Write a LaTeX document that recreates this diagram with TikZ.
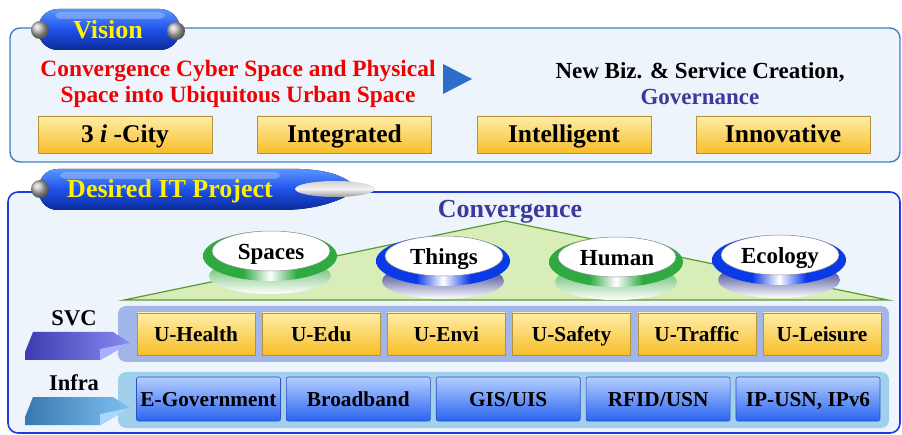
\documentclass[tikz,border=0pt]{standalone}
\usepackage{fontspec}
\setmainfont{Liberation Serif}
\usetikzlibrary{shapes.geometric}
\definecolor{panelfill}{HTML}{EDF4FC}
\definecolor{visborder}{HTML}{3C7FC8}
\definecolor{desborder}{HTML}{1F3BE0}
\definecolor{ytop}{HTML}{FEEDA8}
\definecolor{ybot}{HTML}{F8BE28}
\definecolor{ybord}{HTML}{B8923A}
\definecolor{btop}{HTML}{B4CEFF}
\definecolor{bbot}{HTML}{2A64F0}
\definecolor{bbord}{HTML}{3050C0}
\definecolor{svcband}{HTML}{A3B6EA}
\definecolor{infband}{HTML}{A0D0EC}
\definecolor{govblue}{HTML}{3A3A9A}
\definecolor{redtxt}{HTML}{F00000}
\definecolor{arrblue}{HTML}{2E6EC8}
\definecolor{trifill}{HTML}{D8EDB8}
\definecolor{tridraw}{HTML}{5A9A30}
\definecolor{ringgreen}{HTML}{2EAA40}
\definecolor{basegreen}{HTML}{48B050}
\definecolor{ringblue}{HTML}{0A3AE8}
\definecolor{baseblue}{HTML}{141A78}
\definecolor{bantop}{HTML}{5A96FF}
\definecolor{banmid}{HTML}{1E50E8}
\definecolor{banbot}{HTML}{0B2A9A}
\definecolor{banyel}{HTML}{FFF200}
\definecolor{svcl}{HTML}{3C3CB0}
\definecolor{svcr}{HTML}{8A8AF0}
\definecolor{svcf}{HTML}{A8B0FF}
\definecolor{infl}{HTML}{3878B0}
\definecolor{infr}{HTML}{80C0F0}
\definecolor{inff}{HTML}{A8D8FF}
\pgfdeclarehorizontalshading{ringgreensh}{100bp}{color(0bp)=(ringgreen); color(25bp)=(ringgreen); color(40bp)=(ringgreen); color(50bp)=(white); color(60bp)=(ringgreen); color(75bp)=(ringgreen); color(100bp)=(ringgreen)}
\pgfdeclarehorizontalshading{ringbluesh}{100bp}{color(0bp)=(ringblue); color(25bp)=(ringblue); color(40bp)=(ringblue); color(50bp)=(white); color(60bp)=(ringblue); color(75bp)=(ringblue); color(100bp)=(ringblue)}
\newcommand\myfs[1]{\fontsize{#1}{#1}\selectfont\bfseries}
\begin{document}
\begin{tikzpicture}[x=1pt,y=-1pt,
  panel/.style={fill=panelfill, rounded corners=10pt},
  ctext/.style n args={2}{inner sep=0pt, text height=#1, text depth=#2},
  ybox/.style={draw=ybord, line width=0.6pt, top color=ytop, bottom color=ybot},
  vbox/.style={ybox, ctext={21.7pt}{4.8pt}, minimum width=174pt, minimum height=37pt, font=\myfs{25.5}},
  sbox/.style={ybox, ctext={18.1pt}{4pt}, minimum width=118pt, minimum height=42pt, font=\myfs{21.3}},
  ibox/.style={ctext={18.1pt}{4pt}, draw=bbord, line width=0.6pt, top color=btop, bottom color=bbot,
     minimum width=144pt, minimum height=44pt, rounded corners=2pt, font=\myfs{21.3}},
  bantext/.style={ctext={22.1pt}{4.9pt}, text=banyel, font=\myfs{26}},
  bannershade/.style={top color=bantop, bottom color=banbot, middle color=banmid},
  orbtext/.style={ctext={19.6pt}{4.3pt}, font=\myfs{23}},
  sidelabel/.style={ctext={19.1pt}{4.2pt}, font=\myfs{22.5}},
  ball/.style={shading=ball, ball color=gray!55}
]
\useasboundingbox (0,0) rectangle (902,435);

% ---------- Vision panel ----------
\draw[panel, draw=visborder, line width=1.4pt] (10,28) rectangle (900,162);

% Vision banner
\fill[bannershade] (38,9) [rounded corners=20pt] rectangle (180,50);
\fill[white, opacity=0.25, rounded corners=5pt] (55,12) rectangle (165,19);
\shade[ball] (40,30) circle [radius=9];
\shade[ball] (176,31) circle [radius=9];
\node[bantext] (vision) at (108,30) {Vision};

% statements
\node[text=redtxt, font=\myfs{23.4}, align=center, inner sep=0pt] (conv1) at (238,84)
  {Convergence Cyber Space and Physical\\[2pt]Space into Ubiquitous Urban Space};
\fill[arrblue] (443,64) -- (472,79) -- (443,94) -- cycle;
\node[font=\myfs{23}, align=center, inner sep=0pt] (newbiz) at (700,84)
  {New Biz. \& Service Creation,\\[3pt]{\color{govblue}Governance}};

% yellow boxes
\node[vbox] (city) at (125,134.5) {3 \textit{i} -City};
\node[vbox] (integ) at (344.5,134.5) {Integrated};
\node[vbox] (intel) at (564,134.5) {Intelligent};
\node[vbox] (innov) at (783,134.5) {Innovative};

% ---------- Desired IT Project panel ----------
\draw[panel, draw=desborder, line width=1.6pt] (8,192) rectangle (900,433);

% Desired banner
\fill[bannershade] (58,169) -- (300,169) .. controls (328,170) and (342,176) .. (350,182)
  -- (305,184) .. controls (296,186) and (296,192) .. (305,194)
  -- (345,197) .. controls (330,204) and (310,210) .. (280,210)
  -- (58,210) .. controls (32,210) and (32,169) .. (58,169) -- cycle;
\fill[white, opacity=0.25, rounded corners=5pt] (60,172) rectangle (280,179);
\shade[top color=gray!35, bottom color=gray!80, middle color=gray!10] (335,189) ellipse [x radius=40, y radius=8];
\shade[ball] (40,189) circle [radius=9];
\node[bantext] (desired) at (170,189) {Desired IT Project};

% Convergence triangle
\node[ctext={22.1pt}{4.9pt}, text=govblue, font=\myfs{26}] (convergence) at (510,209) {Convergence};
\filldraw[fill=trifill, draw=tridraw, line width=1.2pt] (124,300) -- (505,221) -- (888,300) -- cycle;

% orbs
\foreach \cx/\cy/\ring/\base/\nm/\txt in {
   270/252/ringgreen/basegreen/spaces/Spaces,
   443/257/ringblue/baseblue/things/Things,
   616/258/ringgreen/basegreen/human/Human,
   779/256/ringblue/baseblue/ecology/Ecology}{
  \shade[top color=\base, bottom color=white] (\cx,\cy+24) ellipse [x radius=61, y radius=18];
  \shade[shading=\ring sh] (\cx,\cy+4) ellipse [x radius=67, y radius=25];
  \filldraw[fill=white, draw=black!45, line width=0.5pt] (\cx+1,\cy-1) ellipse [x radius=59, y radius=20];
  \node[orbtext] (\nm) at (\cx+1,\cy) {\txt};
}

% SVC layer
\fill[svcband, rounded corners=8pt] (118,306) rectangle (889,362);
\shade[left color=svcl, right color=svcr] (25,360) -- (25,352) -- (33,332) -- (113,332) -- (130,343) -- (100,360) -- cycle;
\fill[svcf] (100,349) -- (130,343) -- (100,360) -- cycle;
\node[sidelabel] (svc) at (74,318) {SVC};
\node[sbox] (uhealth) at (196,334) {U-Health};
\node[sbox] (uedu) at (321.2,334) {U-Edu};
\node[sbox] (uenvi) at (446.4,334) {U-Envi};
\node[sbox] (usafety) at (571.6,334) {U-Safety};
\node[sbox] (utraffic) at (696.8,334) {U-Traffic};
\node[sbox] (uleisure) at (822,334) {U-Leisure};

% Infra layer
\fill[infband, rounded corners=8pt] (118,372) rectangle (889,428);
\shade[left color=infl, right color=infr] (25,425) -- (25,417) -- (33,397) -- (113,397) -- (130,408) -- (100,425) -- cycle;
\fill[inff] (100,414) -- (130,408) -- (100,425) -- cycle;
\node[sidelabel] (infra) at (74,383) {Infra};
\node[ibox] (egov) at (208.5,399) {E-Government};
\node[ibox] (broad) at (358.3,399) {Broadband};
\node[ibox] (gis) at (508.2,399) {GIS/UIS};
\node[ibox] (rfid) at (658.1,399) {RFID/USN};
\node[ibox] (ipusn) at (808,399) {IP-USN, IPv6};
\end{tikzpicture}
\end{document}
